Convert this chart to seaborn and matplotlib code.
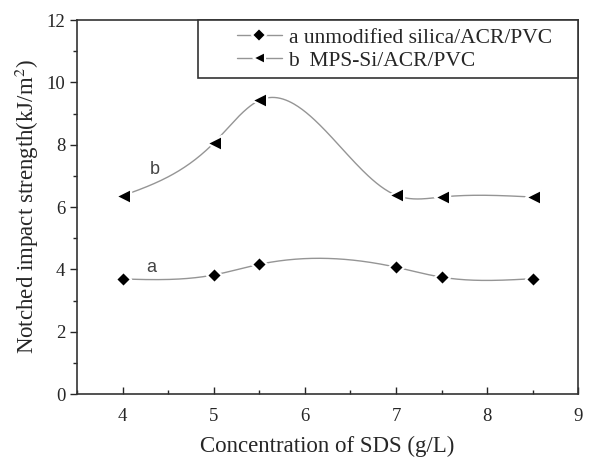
import numpy as np
import pandas as pd
import matplotlib
matplotlib.use("Agg")
import matplotlib.pyplot as plt
from matplotlib.lines import Line2D
from matplotlib.patches import Rectangle
import seaborn as sns

# ---- data ----
conc = [4.0, 5.0, 5.5, 7.0, 7.5, 8.5]
strength_a = [3.69, 3.82, 4.16, 4.07, 3.75, 3.70]
strength_b = [6.36, 8.05, 9.42, 6.38, 6.32, 6.32]
label_a = "a unmodified silica/ACR/PVC"
label_b = "b  MPS-Si/ACR/PVC"
x_ticks = [4, 5, 6, 7, 8, 9]
y_ticks = [0, 2, 4, 6, 8, 10, 12]


def natural_spline(x, y, n=300):
    x = np.asarray(x, float)
    y = np.asarray(y, float)
    k = len(x)
    h = np.diff(x)
    A = np.zeros((k, k))
    r = np.zeros(k)
    A[0, 0] = 1
    A[-1, -1] = 1
    for i in range(1, k - 1):
        A[i, i - 1] = h[i - 1]
        A[i, i] = 2 * (h[i - 1] + h[i])
        A[i, i + 1] = h[i]
        r[i] = 6 * ((y[i + 1] - y[i]) / h[i] - (y[i] - y[i - 1]) / h[i - 1])
    M = np.linalg.solve(A, r)
    xs = np.linspace(x[0], x[-1], n)
    idx = np.clip(np.searchsorted(x, xs) - 1, 0, k - 2)
    x0, x1 = x[idx], x[idx + 1]
    hh = x1 - x0
    ys = (M[idx] * (x1 - xs) ** 3 / (6 * hh) + M[idx + 1] * (xs - x0) ** 3 / (6 * hh)
          + (y[idx] / hh - M[idx] * hh / 6) * (x1 - xs)
          + (y[idx + 1] / hh - M[idx + 1] * hh / 6) * (xs - x0))
    return xs, ys


sns.set_style("ticks")
plt.rcParams["font.family"] = ["Liberation Serif", "DejaVu Serif"]
plt.rcParams["mathtext.fontset"] = "stix"

fig = plt.figure(figsize=(5.9, 4.61), dpi=100)
ax = fig.add_axes([0.1305, 0.1453, 0.8495, 0.8113])

line_col = "#959595"
for vals, mk in [(strength_a, "D"), (strength_b, "<")]:
    xs, ys = natural_spline(conc, vals)
    sns.lineplot(x=xs, y=ys, ax=ax, color=line_col, linewidth=1.0, zorder=2)
    sns.scatterplot(x=conc, y=vals, ax=ax, marker=mk, color="black",
                    s=60 if mk == "D" else 120, edgecolor="white", linewidth=1.6, zorder=3)

ax.set_xlim(3.5, 9)
ax.set_ylim(0, 12)
ax.set_xticks(x_ticks)
ax.set_yticks(y_ticks)
ax.set_xticks(np.arange(3.5, 9.01, 0.5), minor=True)
ax.set_yticks(np.arange(1, 12, 2), minor=True)
ax.tick_params(axis="x", which="both", direction="in", labelsize=13.5, pad=10)
ax.tick_params(axis="y", which="both", direction="out", labelsize=13.5)
ax.tick_params(which="major", length=5, width=1)
ax.tick_params(which="minor", length=3, width=1)
for s in ax.spines.values():
    s.set_linewidth(1.2)
    s.set_color("#333333")
    s.set_visible(True)

ax.set_xlabel("Concentration of SDS (g/L)", fontsize=16.5, labelpad=8)
ax.set_ylabel("Notched impact strength(kJ/m$^2$)", fontsize=16.5, labelpad=4)

ax.text(4.32, 4.07, "a", fontsize=13, color="#444444", family="Liberation Sans",
        ha="center", va="center")
ax.text(4.35, 7.2, "b", fontsize=13, color="#444444", family="Liberation Sans",
        ha="center", va="center")

handles = [
    Line2D([], [], color=line_col, lw=1.0, marker="D", markersize=7,
           markerfacecolor="black", markeredgecolor="white", markeredgewidth=1.5),
    Line2D([], [], color=line_col, lw=1.0, marker="<", markersize=8.5,
           markerfacecolor="black", markeredgecolor="white", markeredgewidth=1.5),
]
# legend box (frame drawn as a rectangle in axes coordinates)
ax.add_patch(Rectangle((0.2415, 0.845), 0.7585, 0.155, transform=ax.transAxes,
                       facecolor="white", edgecolor="#333333", linewidth=1.2,
                       zorder=4, clip_on=False))
leg = ax.legend(handles, [label_a, label_b], loc="center left", bbox_to_anchor=(0.319, 0.922),
                borderaxespad=0, borderpad=0, fontsize=15.5, frameon=False,
                handlelength=2.1, handletextpad=0.3, labelspacing=0.12)
leg.set_zorder(5)

fig.savefig("out.png", dpi=100)
